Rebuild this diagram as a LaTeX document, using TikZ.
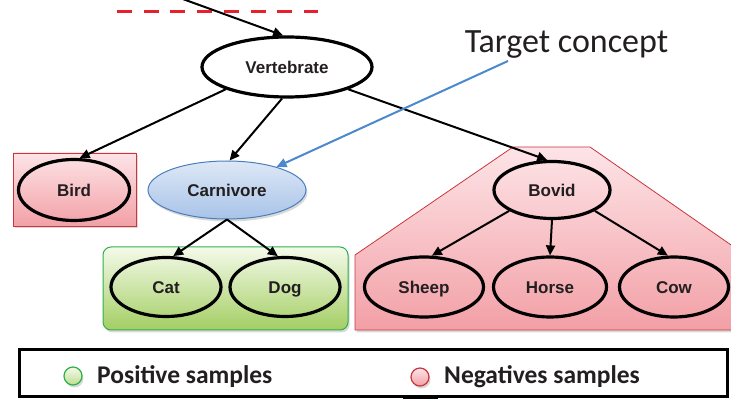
\documentclass[tikz,border=0pt]{standalone}
\usepackage{fontspec}
\setmainfont{Liberation Sans}
\newfontfamily\calibri{Carlito}
\usetikzlibrary{arrows.meta,shadows,shapes.geometric}
\definecolor{txt}{HTML}{231F20}
\definecolor{pinkT}{HTML}{FDE4E7}
\definecolor{pinkB}{HTML}{F2A0A6}
\definecolor{redE}{HTML}{C9373C}
\definecolor{greenT}{HTML}{F5FAEA}
\definecolor{greenB}{HTML}{A3CE63}
\definecolor{greenE}{HTML}{2EB14B}
\definecolor{blueT}{HTML}{DDE8F6}
\definecolor{blueB}{HTML}{A8C3E8}
\definecolor{blueE}{HTML}{4A7EBB}
\definecolor{arrowblue}{HTML}{4B89CC}
\definecolor{dashred}{HTML}{E8202E}
\begin{document}
\begin{tikzpicture}[x=1pt,y=-1pt,
  concept/.style={ellipse, draw=black, line width=3.2pt, inner sep=0pt,
    text height=12.2pt, text depth=0pt,
    font=\bfseries\fontsize{17}{20}\selectfont, text=txt},
  edge/.style={line width=2pt, -{Triangle[length=10pt,width=9pt]}},
  softshadow/.style={drop shadow={opacity=0.3, shadow xshift=1.5pt, shadow yshift=-2.5pt}},
  pinkregion/.style={draw=redE, line width=0.8pt, top color=pinkT, bottom color=pinkB, softshadow},
  greenregion/.style={draw=greenE, line width=1pt, top color=greenT, bottom color=greenB, rounded corners=8pt, softshadow},
  legendtext/.style={anchor=base west, font=\calibri\bfseries\fontsize{25.5}{28}\selectfont, text=txt, inner sep=0pt}
]
\useasboundingbox (0,0) rectangle (731,403);

% red dashed line
\coordinate (d1) at (117,12);
\coordinate (d2) at (318,12);
\draw[dashred, line width=3pt, dash pattern=on 15pt off 11.7pt] (d1) -- (d2);

% regions
\path[pinkregion] (13,153) rectangle (136,226);
\path[greenregion] (103,247) rectangle (348,330);
\path[pinkregion] (513,147) -- (590,147) -- (734,247) -- (734,330) -- (355,330) -- (355,255) -- cycle;

% nodes
\node[concept, minimum width=170pt, minimum height=60pt] (vert) at (287,67) {Vertebrate};
\node[concept, minimum width=111pt, minimum height=61pt] (bird) at (74,190) {Bird};
\node[concept, draw=blueE, line width=1pt, top color=blueT, bottom color=blueB, softshadow,
      minimum width=158pt, minimum height=58pt] (carn) at (227,190) {Carnivore};
\node[concept, minimum width=116pt, minimum height=57pt] (bovid) at (552,190) {Bovid};
\node[concept, minimum width=110pt, minimum height=59pt] (cat) at (166,287) {Cat};
\node[concept, minimum width=110pt, minimum height=59pt] (dog) at (285,287) {Dog};
\node[concept, minimum width=119pt, minimum height=60pt] (sheep) at (424,287) {Sheep};
\node[concept, minimum width=113pt, minimum height=60pt] (horse) at (550,287) {Horse};
\node[concept, minimum width=109pt, minimum height=60pt] (cow) at (674,287) {Cow};

\node[anchor=base, inner sep=0pt, font=\calibri\fontsize{34}{38}\selectfont, text=txt] (target) at (566.5,53) {Target concept};

% edges
\coordinate (topstart) at (180,-2);
\draw[edge] (topstart) -- (vert.97);
\draw[edge] (vert.200) -- (bird.80);
\draw[edge] (vert.261) -- (carn.85);
\draw[edge] (vert.340) -- (bovid.99);
\draw[edge] (carn.south) -- (cat.77);
\draw[edge] (carn.south) -- (dog.103);
\draw[edge] (bovid.206) -- (sheep.76);
\draw[edge] (bovid.south) -- (horse.north);
\draw[edge] (bovid.334) -- (cow.101);
\coordinate (tcstart) at (508,61);
\draw[edge, arrowblue] (tcstart) -- (carn.25);

% legend
\node[draw=black, line width=3pt, fill=white, minimum width=708pt, minimum height=47pt, inner sep=0pt] (legend) at (373.5,373) {};
\coordinate (b1) at (403,398.5);
\coordinate (b2) at (438,398.5);
\draw[line width=1.5pt] (b1) -- (b2);
\node[circle, draw=greenE, line width=1.2pt, top color=greenT, bottom color=greenB!70, minimum size=18pt, inner sep=0pt, softshadow] (poscirc) at (73,376) {};
\node[legendtext] (postext) at (97,383) {Positive samples};
\node[circle, draw=redE, line width=1.2pt, top color=pinkT, bottom color=pinkB, minimum size=18pt, inner sep=0pt, softshadow] (negcirc) at (420,377) {};
\node[legendtext] (negtext) at (444,383) {Negatives samples};
\end{tikzpicture}
\end{document}
